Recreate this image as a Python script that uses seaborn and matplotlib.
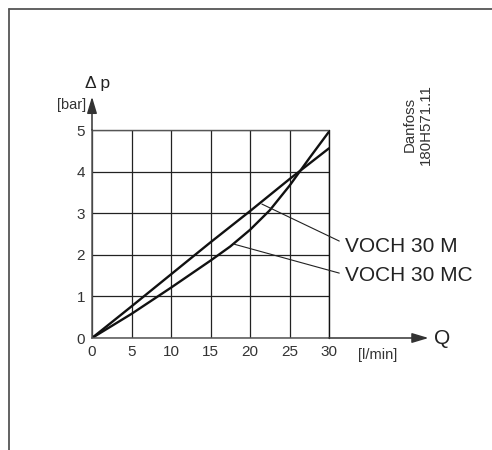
import numpy as np
import pandas as pd
import matplotlib
matplotlib.use("Agg")
import matplotlib.pyplot as plt
from matplotlib.lines import Line2D
import seaborn as sns

# Flow vs pressure drop
q = [0, 5, 10, 15, 20, 25, 30]
dp_m = [0, 0.76, 1.53, 2.30, 3.05, 3.82, 4.56]
q_mc = [0, 5, 10, 15, 17.5, 20, 22.5, 25, 27.5, 30]
dp_mc = [0, 0.58, 1.21, 1.86, 2.20, 2.60, 3.07, 3.66, 4.32, 4.96]
x_ticks = [0, 5, 10, 15, 20, 25, 30]
y_ticks = [0, 1, 2, 3, 4, 5]
labels = ["VOCH 30 M", "VOCH 30 MC"]

df = pd.concat([
    pd.DataFrame({"Q": q, "dp": dp_m, "type": labels[0]}),
    pd.DataFrame({"Q": q_mc, "dp": dp_mc, "type": labels[1]}),
], ignore_index=True)

sns.set_style("white")
plt.rcParams["font.family"] = ["Liberation Sans", "DejaVu Sans"]

fig = plt.figure(figsize=(4.92, 4.5), dpi=100)
ax = fig.add_axes([92/492, 112/450, 237/492, 208/450])

sns.lineplot(data=df, x="Q", y="dp", hue="type", palette=["#111111", "#111111"],
             linewidth=1.7, legend=False, ax=ax, sort=True, estimator=None)

ax.set_xlim(0, 30)
ax.set_ylim(0, 5)
ax.set_xticks(x_ticks)
ax.set_yticks(y_ticks)
ax.tick_params(labelsize=11, colors="#333333", length=3, width=0.8, pad=2)
ax.grid(True, color="#222222", linewidth=0.9)
ax.set_xlabel("")
ax.set_ylabel("")
for s in ["top", "right"]:
    ax.spines[s].set_visible(False)
for s in ["left", "bottom"]:
    ax.spines[s].set_color("#555555")
    ax.spines[s].set_linewidth(1.1)
# top and right grid edges
ax.axhline(5, color="#555555", lw=1.0, clip_on=False)
ax.axvline(30, color="#111111", lw=1.0, clip_on=False)

# axis arrows
ax.annotate("", xy=(42.6, 0), xytext=(30, 0), annotation_clip=False,
            arrowprops=dict(arrowstyle="-|>,head_length=1.0,head_width=0.3",
                            color="#333333", lw=1.1, shrinkA=0, shrinkB=0))
ax.annotate("", xy=(0, 5.8), xytext=(0, 5), annotation_clip=False,
            arrowprops=dict(arrowstyle="-|>,head_length=1.0,head_width=0.3",
                            color="#333333", lw=1.1, shrinkA=0, shrinkB=0))
ax.text(43.3, 0, "Q", fontsize=15, ha="left", va="center", color="#222222", clip_on=False)
ax.text(36.2, -0.25, "[l/min]", fontsize=10.5, ha="center", va="top", color="#333333", clip_on=False)
ax.text(-0.8, 5.6, "[bar]", fontsize=10.5, ha="right", va="center", color="#333333", clip_on=False)
ax.text(-0.9, 6.12, "Δ p", fontsize=12.5, ha="left", va="center", color="#222222", clip_on=False)

# leader lines and labels
ax.plot([21.5, 31.3], [3.22, 2.33], color="#222222", lw=0.8, clip_on=False)
ax.plot([17.9, 31.3], [2.26, 1.56], color="#222222", lw=0.8, clip_on=False)
ax.text(32.0, 2.2, labels[0], fontsize=15, ha="left", va="center", color="#222222", clip_on=False)
ax.text(32.0, 1.5, labels[1], fontsize=15, ha="left", va="center", color="#222222", clip_on=False)

fig.text(418/492, 1 - 165/450, "Danfoss\n180H571.11", rotation=90, fontsize=10.8,
         ha="center", va="bottom", color="#333333", linespacing=1.15)

# page frame
fig.add_artist(Line2D([9/492, 9/492], [0, 1 - 9/450], color="#555555", lw=1.3))
fig.add_artist(Line2D([9/492, 1], [1 - 9/450, 1 - 9/450], color="#555555", lw=1.3))

fig.savefig("out.png", dpi=100)
